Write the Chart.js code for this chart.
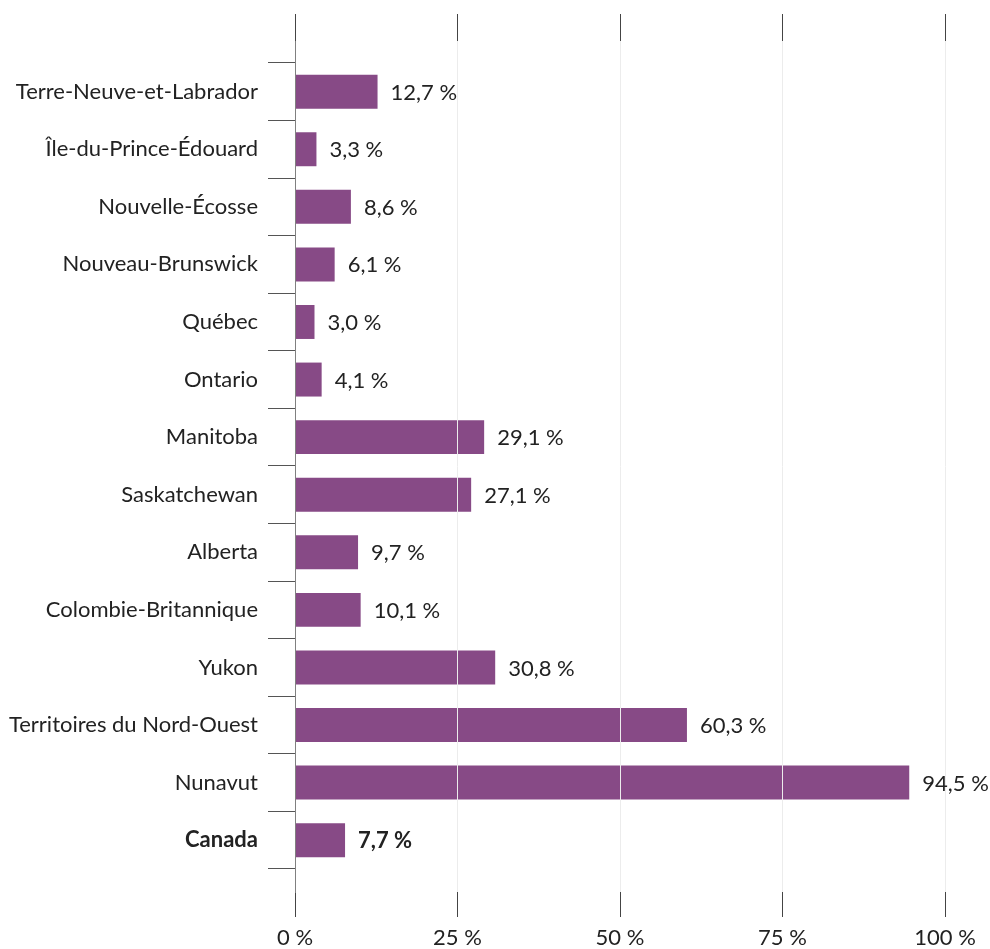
<!DOCTYPE html>
<html lang="fr">
<head>
<meta charset="utf-8">
<script src="https://cdn.jsdelivr.net/npm/chart.js@4"></script>
<style>
  html, body { margin: 0; padding: 0; background: #fff; }
  #wrap { width: 990px; height: 949px; }
</style>
</head>
<body>
<div id="wrap"><canvas id="chart"></canvas></div>
<script>
// Provinces et territoires, de haut en bas
const regions = [
    "Terre-Neuve-et-Labrador", "Île-du-Prince-Édouard", "Nouvelle-Écosse",
    "Nouveau-Brunswick", "Québec", "Ontario", "Manitoba", "Saskatchewan",
    "Alberta", "Colombie-Britannique", "Yukon", "Territoires du Nord-Ouest",
    "Nunavut", "Canada"
];
const shares = [12.7, 3.3, 8.6, 6.1, 3.0, 4.1, 29.1, 27.1, 9.7, 10.1, 30.8, 60.3, 94.5, 7.7];
const xTicks = [0, 25, 50, 75, 100];

const FONT = "Lato, 'Open Sans', sans-serif";
const SIZE = 22;
const TEXT = "#222";
const BAR = "#874a86";
const lastIdx = regions.length - 1;

const fmt = v => v.toFixed(1).replace(".", ",") + " %";

// étiquettes de valeur au bout des barres
const valueLabels = {
    id: "valueLabels",
    afterDraw(chart) {
        const ctx = chart.ctx;
        const meta = chart.getDatasetMeta(0);
        ctx.save();
        ctx.fillStyle = TEXT;
        ctx.textBaseline = "middle";
        ctx.textAlign = "left";
        meta.data.forEach((bar, i) => {
            ctx.font = (i === lastIdx ? "bold " : "") + SIZE + "px " + FONT;
            ctx.fillText(fmt(shares[i]), bar.x + 13, bar.y + 1);
        });
        ctx.restore();
    }
};

new Chart(document.getElementById("chart"), {
    type: "bar",
    data: {
        datasets: [{
            data: shares.map((v, i) => ({ x: v, y: i })),
            backgroundColor: BAR,
            borderWidth: 0,
            categoryPercentage: 1,
            barPercentage: 0.59
        }]
    },
    options: {
        indexAxis: "y",
        responsive: true,
        maintainAspectRatio: false,
        animation: false,
        layout: { padding: { top: 0, right: 45, bottom: 0, left: 0 } },
        plugins: { legend: { display: false }, tooltip: { enabled: false } },
        scales: {
            y: {
                type: "linear",
                reverse: true,
                offset: false,
                min: -0.88,
                max: 13.9,
                afterBuildTicks: s => { s.ticks = regions.map((_, i) => ({ value: i })); },
                afterFit: s => { s.width = 295; },
                border: { display: true, color: "#808080", width: 1, z: 2 },
                grid: {
                    offset: true,
                    drawOnChartArea: false,
                    tickLength: 27,
                    tickColor: "#555",
                    lineWidth: 1
                },
                ticks: {
                    padding: 10,
                    color: TEXT,
                    autoSkip: false,
                    font: c => ({ family: FONT, size: SIZE, weight: c.tick && c.tick.value === lastIdx ? "bold" : "normal" }),
                    callback: v => regions[v]
                }
            },
            x: {
                type: "linear",
                position: "bottom",
                min: 0,
                max: 100,
                afterBuildTicks: s => { s.ticks = xTicks.map(v => ({ value: v })); },
                afterFit: s => { s.height = 57; },
                border: { display: false },
                grid: {
                    z: 1,
                    color: "#ececec",
                    tickColor: "#444",
                    tickLength: 25,
                    lineWidth: 1
                },
                ticks: {
                    padding: 8,
                    color: TEXT,
                    font: { family: FONT, size: SIZE },
                    callback: v => v + " %"
                }
            },
            xTop: {
                type: "linear",
                position: "top",
                axis: "x",
                min: 0,
                max: 100,
                afterBuildTicks: s => { s.ticks = xTicks.map(v => ({ value: v })); },
                afterFit: s => { s.height = 41; },
                border: { display: false },
                grid: {
                    drawOnChartArea: false,
                    tickColor: "#444",
                    tickLength: 27,
                    lineWidth: 1
                },
                ticks: { display: false }
            }
        }
    },
    plugins: [valueLabels]
});
</script>
</body>
</html>
